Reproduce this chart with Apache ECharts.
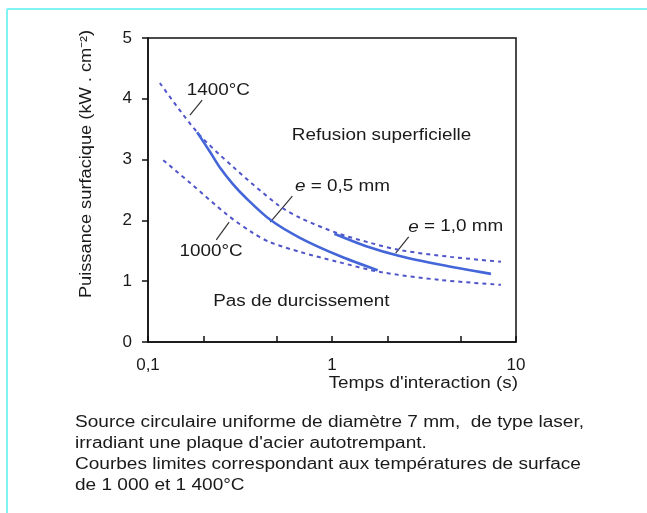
<!DOCTYPE html>
<html>
<head>
<meta charset="utf-8">
<script src="https://cdn.jsdelivr.net/npm/echarts@6/dist/echarts.min.js"></script>
<style>
  html, body { margin: 0; padding: 0; background: #ffffff; }
  #c { width: 647px; height: 513px; }
</style>
</head>
<body>
<div id="c"></div>
<script>
// Interaction time (s) and surface power (kW/cm²) along each curve
const temps1400 = [0.116, 0.185, 0.290, 0.511, 0.673, 1.07, 1.62, 2.36, 4.42, 8.28];
const puiss1400 = [4.26, 3.45, 2.88, 2.25, 2.04, 1.79, 1.63, 1.51, 1.40, 1.32];

const temps1000 = [0.121, 0.169, 0.270, 0.373, 0.462, 0.673, 1.07, 1.84, 3.90, 8.28];
const puiss1000 = [2.99, 2.62, 2.09, 1.79, 1.64, 1.48, 1.32, 1.15, 1.02, 0.94];

const tempsE05 = [0.185, 0.218, 0.247, 0.287, 0.338, 0.462, 0.673, 1.11, 1.77];
const puissE05 = [3.45, 3.12, 2.86, 2.61, 2.38, 2.01, 1.71, 1.41, 1.18];

const tempsE10 = [1.03, 1.52, 2.36, 3.90, 7.31];
const puissE10 = [1.78, 1.58, 1.41, 1.27, 1.12];

// Axis tick labels
const xTickValues = [0.1, 1, 10];
const xTickLabels = ['0,1', '1', '10'];
const xMinorTicks = [0.2, 0.5, 2, 5];
const yTickLabels = ['0', '1', '2', '3', '4', '5'];

const captionLines = [
  'Source circulaire uniforme de diamètre 7 mm,  de type laser,',
  "irradiant une plaque d'acier autotrempant.",
  'Courbes limites correspondant aux températures de surface',
  'de 1 000 et 1 400°C'
];

const FONT = '"Liberation Sans", Arial, sans-serif';
const TEXT_COLOR = '#1a1a1a';
const DASH_COLOR = '#4f54c8';
const SOLID_COLOR = '#4466d8';
const TEXT_SCALE = 1.18;

const pair = (xs, ys) => xs.map((x, i) => [x, ys[i]]);

const chart = echarts.init(document.getElementById('c'), null, { renderer: 'canvas' });

const lineSeries = (name, data, dashed) => ({
  name,
  type: 'line',
  xAxisIndex: 0,
  data,
  smooth: 0.3,
  showSymbol: false,
  silent: true,
  lineStyle: dashed
    ? { color: DASH_COLOR, width: 2, type: [4, 4] }
    : { color: SOLID_COLOR, width: 2.6, type: 'solid' }
});

chart.setOption({
  backgroundColor: '#ffffff',
  animation: false,
  grid: {
    left: 148, top: 38, right: 131, bottom: 171,
    show: true, borderColor: '#111', borderWidth: 1.5, backgroundColor: 'transparent'
  },
  xAxis: [
    {
      type: 'log', logBase: 10, min: 0.1, max: 10,
      axisLine: { show: true, lineStyle: { color: '#111', width: 1.5 } },
      axisTick: { show: true, inside: true, length: 6, lineStyle: { color: '#111', width: 1.5 },
                  customValues: xTickValues },
      axisLabel: {
        show: true, margin: 15, color: TEXT_COLOR, fontFamily: FONT, fontSize: 17,
        customValues: xTickValues,
        formatter: v => {
          const i = xTickValues.findIndex(t => Math.abs(Math.log10(t) - Math.log10(v)) < 1e-6);
          return i >= 0 ? xTickLabels[i] : '';
        }
      },
      splitLine: { show: false }
    },
    {
      type: 'log', logBase: 10, min: 0.1, max: 10, position: 'bottom',
      axisLine: { show: false },
      axisTick: { show: true, inside: true, length: 6, lineStyle: { color: '#111', width: 1.5 },
                  customValues: xMinorTicks },
      axisLabel: { show: false },
      splitLine: { show: false }
    }
  ],
  yAxis: {
    type: 'value', min: 0, max: 5, interval: 1,
    axisLine: { show: true, lineStyle: { color: '#111', width: 1.5 } },
    axisTick: { show: true, inside: false, length: 6, lineStyle: { color: '#111', width: 1.5 } },
    axisLabel: {
      margin: 16, color: TEXT_COLOR, fontFamily: FONT, fontSize: 17,
      formatter: v => yTickLabels[Math.round(v)]
    },
    splitLine: { show: false }
  },
  series: [
    lineSeries('1400°C', pair(temps1400, puiss1400), true),
    lineSeries('1000°C', pair(temps1000, puiss1000), true),
    lineSeries('e = 0,5 mm', pair(tempsE05, puissE05), false),
    lineSeries('e = 1,0 mm', pair(tempsE10, puissE10), false)
  ]
});

// Annotations placed in data coordinates (time, power)
const labels = [
  { at: [0.241, 4.14], text: '1400°C' },
  { at: [0.220, 1.48], text: '1000°C' },
  { at: [1.14, 2.55], text: '{i|e} = 0,5 mm' },
  { at: [4.71, 1.89], text: '{i|e} = 1,0 mm' },
  { at: [1.86, 3.39], text: 'Refusion superficielle' },
  { at: [0.682, 0.67], text: 'Pas de durcissement' }
];
const leaders = [
  [[0.197, 3.98], [0.169, 3.73]],
  [[0.235, 1.68], [0.276, 1.97]],
  [[0.609, 2.40], [0.462, 1.97]],
  [[2.61, 1.73], [2.22, 1.46]]
];

const toPx = p => chart.convertToPixel({ gridIndex: 0 }, p);

const graphics = [];

labels.forEach(l => {
  const [x, y] = toPx(l.at);
  graphics.push({
    type: 'text', x, y, scaleX: TEXT_SCALE, silent: true,
    style: {
      text: l.text, fill: TEXT_COLOR, font: '16px ' + FONT,
      align: 'center', verticalAlign: 'middle',
      rich: { i: { fontStyle: 'italic', fontSize: 16, fontFamily: FONT, fill: TEXT_COLOR } }
    }
  });
});

leaders.forEach(seg => {
  const a = toPx(seg[0]);
  const b = toPx(seg[1]);
  graphics.push({
    type: 'line', silent: true,
    shape: { x1: a[0], y1: a[1], x2: b[0], y2: b[1] },
    style: { stroke: '#333', lineWidth: 1.2 }
  });
});

// Axis titles
graphics.push({
  type: 'text', x: 518, y: 384, scaleX: TEXT_SCALE, silent: true,
  style: { text: "Temps d'interaction (s)", fill: TEXT_COLOR, font: '16px ' + FONT,
           align: 'right', verticalAlign: 'middle' }
});
graphics.push({
  type: 'text', x: 87, y: 164, rotation: Math.PI / 2, scaleX: 1.14, silent: true,
  style: { text: 'Puissance surfacique (kW . cm⁻²)', fill: TEXT_COLOR, font: '16px ' + FONT,
           align: 'center', verticalAlign: 'middle' }
});

// Caption below the chart
captionLines.forEach((line, i) => {
  graphics.push({
    type: 'text', x: 75, y: 423 + i * 20.7, scaleX: 1.19, silent: true,
    style: { text: line, fill: TEXT_COLOR, font: '16px ' + FONT, align: 'left', verticalAlign: 'middle' }
  });
});

// Light frame along the top and left edges
graphics.push({
  type: 'line', silent: true,
  shape: { x1: 7, y1: 9, x2: 647, y2: 9 },
  style: { stroke: '#7ff2f2', lineWidth: 2 }
});
graphics.push({
  type: 'line', silent: true,
  shape: { x1: 7, y1: 9, x2: 7, y2: 513 },
  style: { stroke: '#7ff2f2', lineWidth: 2 }
});

chart.setOption({ graphic: graphics });
</script>
</body>
</html>
